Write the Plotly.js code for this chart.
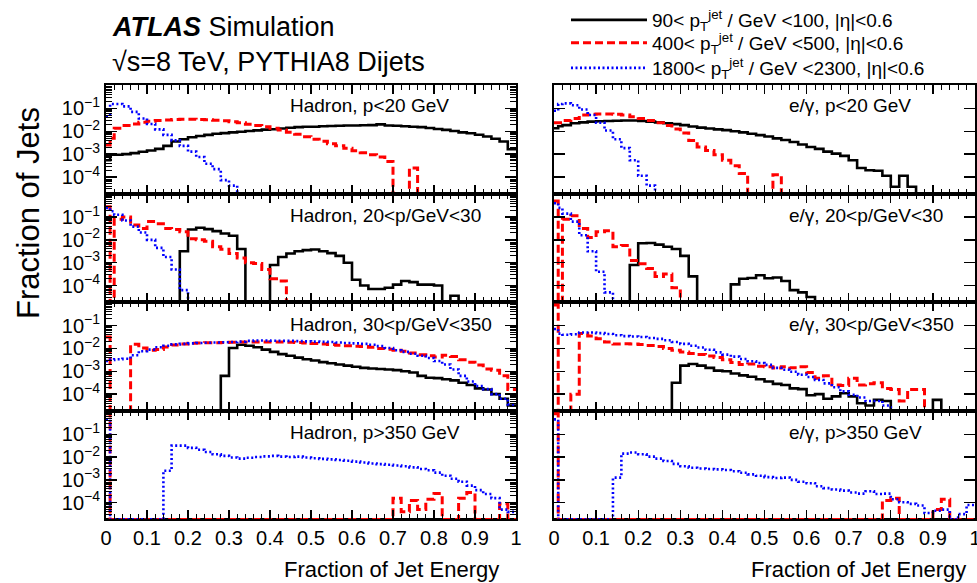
<!DOCTYPE html>
<html><head><meta charset="utf-8">
<script src="https://cdn.plot.ly/plotly-3.0.1.min.js"></script>
<style>html,body{margin:0;padding:0;background:#fff}#chart{width:977px;height:583px}</style>
</head><body><div id="chart"></div>
<script>
const _ = null; // empty bin

// Histogram bin edges (fraction of jet energy)
const binEdges = [0,0.01,0.02,0.04,0.06,0.08,0.10,0.12,0.14,0.16,0.18,0.20,0.22,0.24,0.26,0.28,0.30,0.32,0.34,0.36,0.38,0.40,0.42,0.44,0.46,0.48,0.50,0.52,0.54,0.56,0.58,0.60,0.62,0.64,0.66,0.68,0.70,0.72,0.74,0.76,0.78,0.80,0.82,0.84,0.86,0.88,0.90,0.92,0.94,0.96,0.98,1.00];

const seriesLabels = [
  '90&lt; p<sub>T</sub><sup>jet</sup> / GeV &lt;100, |η|&lt;0.6',
  '400&lt; p<sub>T</sub><sup>jet</sup> / GeV &lt;500, |η|&lt;0.6',
  '1800&lt; p<sub>T</sub><sup>jet</sup> / GeV &lt;2300, |η|&lt;0.6'
];
const panelLabels = [
  'Hadron, p&lt;20 GeV', 'e/γ, p&lt;20 GeV',
  'Hadron, 20&lt;p/GeV&lt;30', 'e/γ, 20&lt;p/GeV&lt;30',
  'Hadron, 30&lt;p/GeV&lt;350', 'e/γ, 30&lt;p/GeV&lt;350',
  'Hadron, p&gt;350 GeV', 'e/γ, p&gt;350 GeV'
];
const yTickVals = [1e-1, 1e-2, 1e-3, 1e-4];
const yTickText = ['10<sup>−1</sup>', '10<sup>−2</sup>', '10<sup>−3</sup>', '10<sup>−4</sup>'];

// log10(fraction of jets) per bin; null = empty bin
const hadronP0to20_jet90 = [-3.27,-3.03,-3.03,-3.0,-2.96,-2.9,-2.84,-2.77,-2.64,-2.45,-2.35,-2.26,-2.21,-2.16,-2.11,-2.08,-2.05,-2.02,-1.99,-1.96,-1.93,-1.91,-1.88,-1.85,-1.82,-1.8,-1.8,-1.78,-1.77,-1.76,-1.75,-1.75,-1.74,-1.73,-1.7,-1.75,-1.76,-1.78,-1.8,-1.82,-1.86,-1.9,-1.94,-1.99,-2.05,-2.09,-2.15,-2.23,-2.33,-2.45,-2.79];
const hadronP0to20_jet400 = [-2.6,-2.31,-1.87,-1.75,-1.68,-1.61,-1.56,-1.53,-1.51,-1.49,-1.48,-1.48,-1.49,-1.5,-1.52,-1.54,-1.58,-1.63,-1.69,-1.75,-1.8,-1.87,-1.95,-2.04,-2.13,-2.24,-2.35,-2.44,-2.55,-2.64,-2.74,-2.85,-2.94,-3.03,-3.13,-3.32,_,_,-3.61,_,_,_,_,_,_,_,_,_,_,_,_];
const hadronP0to20_jet1800 = [-1.34,-0.81,-0.81,-0.91,-1.15,-1.44,-1.68,-1.92,-2.16,-2.4,-2.64,-2.89,-3.13,-3.42,-3.66,-4.14,-4.38,_,_,_,_,_,_,_,_,_,_,_,_,_,_,_,_,_,_,_,_,_,_,_,_,_,_,_,_,_,_,_,_,_,_];

const egammaP0to20_jet90 = [-1.87,-1.78,-1.73,-1.65,-1.61,-1.58,-1.56,-1.55,-1.54,-1.53,-1.53,-1.55,-1.58,-1.61,-1.65,-1.69,-1.73,-1.79,-1.84,-1.88,-1.92,-1.95,-2.0,-2.05,-2.11,-2.17,-2.23,-2.31,-2.38,-2.47,-2.58,-2.69,-2.77,-2.89,-2.98,-3.08,-3.27,-3.61,-3.71,-3.73,-3.95,-4.43,-3.95,-4.43,_,_,_,_,_,_,_];
const egammaP0to20_jet400 = [-1.63,-1.63,-1.53,-1.44,-1.29,-1.26,-1.25,-1.25,-1.26,-1.29,-1.36,-1.44,-1.53,-1.63,-1.75,-1.9,-2.08,-2.4,-2.69,-2.84,-3.03,-3.27,-3.51,-3.85,_,_,_,-3.9,_,_,_,_,_,_,_,_,_,_,_,_,_,_,_,_,_,_,_,_,_,_,_];
const egammaP0to20_jet1800 = [-1.1,-0.81,-0.78,-0.86,-1.05,-1.29,-1.63,-1.97,-2.35,-2.74,-3.27,-3.95,-4.38,_,_,_,_,_,_,_,_,_,_,_,_,_,_,_,_,_,_,_,_,_,_,_,_,_,_,_,_,_,_,_,_,_,_,_,_,_,_];

const hadronP20to30_jet90 = [_,_,_,_,_,_,_,_,_,_,-2.5,-1.55,-1.47,-1.53,-1.62,-1.72,-1.82,-2.4,_,_,_,-3.1,-2.75,-2.6,-2.5,-2.45,-2.42,-2.5,-2.58,-2.7,-3.0,-3.75,-4.0,-4.15,-4.15,-4.1,-3.96,-3.8,-3.85,-3.96,-3.96,-4.0,_,-4.45,_,_,_,_,_,_,_];
const hadronP20to30_jet400 = [-0.55,_,-1.1,-1.0,-1.35,-1.5,-1.2,-1.3,-1.5,-1.55,-1.65,-1.95,-2.0,-2.06,-2.3,-2.41,-2.6,-2.8,-3.0,-3.04,-3.3,-3.7,-3.8,_,_,_,_,_,_,_,_,_,_,_,_,_,_,_,_,_,_,_,_,_,_,_,_,_,_,_,_];
const hadronP20to30_jet1800 = [-0.6,-0.75,-0.9,-1.15,-1.42,-1.68,-2.0,-2.35,-2.75,-3.3,-4.2,_,_,_,_,_,_,_,_,_,_,_,_,_,_,_,_,_,_,_,_,_,_,_,_,_,_,_,_,_,_,_,_,_,_,_,_,_,_,_,_];

const egammaP20to30_jet90 = [_,_,_,_,_,_,_,_,_,_,-3.1,-2.15,-2.14,-2.21,-2.3,-2.4,-2.7,-3.6,_,_,_,_,-3.95,-3.7,-3.67,-3.55,-3.68,-3.65,-3.8,-4.2,-4.3,-4.5,_,_,_,_,_,_,_,_,_,_,_,_,_,_,_,_,_,_,_];
const egammaP20to30_jet400 = [-0.3,_,-1.1,-0.95,-1.5,-1.9,-1.65,-1.6,-2.3,-2.25,-2.9,-3.05,-3.25,-3.6,-3.5,-4.1,_,_,_,_,_,_,_,_,_,_,_,_,_,_,_,_,_,_,_,_,_,_,_,_,_,_,_,_,_,_,_,_,_,_,_];
const egammaP20to30_jet1800 = [-0.4,-0.6,-0.85,-1.2,-1.8,-2.5,-3.4,-4.3,_,_,_,_,_,_,_,_,_,_,_,_,_,_,_,_,_,_,_,_,_,_,_,_,_,_,_,_,_,_,_,_,_,_,_,_,_,_,_,_,_,_,_];

const hadronP30to350_jet90 = [_,_,_,_,_,_,_,_,_,_,_,_,_,_,_,-3.2,-1.98,-1.84,-1.88,-1.95,-2.05,-2.15,-2.25,-2.32,-2.4,-2.47,-2.53,-2.6,-2.65,-2.7,-2.75,-2.8,-2.85,-2.88,-2.9,-2.92,-2.95,-3.0,-3.05,-3.2,-3.28,-3.3,-3.35,-3.4,-3.5,-3.6,-3.75,-3.8,-4.0,-4.2,-4.5];
const hadronP30to350_jet400 = [-1.5,_,_,_,-1.82,-1.98,-2.08,-2.05,-1.94,-1.85,-1.8,-1.77,-1.76,-1.75,-1.75,-1.74,-1.73,-1.72,-1.72,-1.72,-1.72,-1.72,-1.72,-1.73,-1.74,-1.76,-1.78,-1.8,-1.83,-1.86,-1.88,-1.9,-1.92,-1.95,-2.0,-2.03,-2.08,-2.12,-2.2,-2.28,-2.32,-2.37,-2.3,-2.35,-2.5,-2.6,-2.73,-2.9,-2.95,-3.2,-3.8];
const hadronP30to350_jet1800 = [-2.55,-2.5,-2.47,-2.45,-2.3,-2.12,-2.05,-1.95,-1.88,-1.82,-1.8,-1.78,-1.76,-1.75,-1.74,-1.73,-1.72,-1.7,-1.67,-1.65,-1.65,-1.66,-1.67,-1.67,-1.68,-1.69,-1.7,-1.71,-1.72,-1.74,-1.76,-1.78,-1.8,-1.84,-1.9,-1.98,-2.08,-2.15,-2.23,-2.32,-2.42,-2.55,-2.7,-2.92,-3.2,-3.45,-3.65,-3.78,-4.0,-4.2,-4.45];

const egammaP30to350_jet90 = [_,_,_,_,_,_,_,_,_,_,_,_,_,_,_,-3.5,-2.75,-2.68,-2.75,-2.85,-2.97,-3.0,-3.1,-3.18,-3.24,-3.35,-3.45,-3.55,-3.6,-3.75,-3.78,-4.05,-4.0,-4.2,-4.1,-3.96,-4.1,-4.4,-4.5,-4.25,-4.3,_,_,_,_,_,-4.25,_,_,_,_];
const egammaP30to350_jet400 = [-0.1,_,_,-4.0,-1.35,-1.45,-1.58,-1.72,-1.8,-1.79,-1.8,-1.83,-1.87,-1.92,-2.0,-2.08,-2.15,-2.22,-2.27,-2.33,-2.4,-2.5,-2.62,-2.7,-2.68,-2.78,-2.8,-2.86,-2.8,-2.85,-2.8,-3.05,-3.3,-3.2,-3.6,-3.62,-3.3,-3.6,-3.55,-3.5,-3.75,-3.8,-4.3,-3.8,-3.8,_,_,_,_,_,_];
const egammaP30to350_jet1800 = [-1.15,-1.35,-1.4,-1.38,-1.3,-1.3,-1.33,-1.37,-1.42,-1.46,-1.48,-1.5,-1.54,-1.58,-1.64,-1.72,-1.8,-1.88,-1.96,-2.06,-2.17,-2.27,-2.36,-2.46,-2.56,-2.64,-2.72,-2.85,-2.93,-3.02,-3.15,-3.25,-3.38,-3.53,-3.7,-3.88,-4.03,-4.15,-4.3,-4.3,-4.5,_,_,_,_,_,_,_,_,_,_];

const hadronP350up_jet90 = [_,_,_,_,_,_,_,_,_,_,_,_,_,_,_,_,_,_,_,_,_,_,_,_,_,_,_,_,_,_,_,_,_,_,_,_,_,_,_,_,_,_,_,_,_,_,_,_,_,_,_];
const hadronP350up_jet400 = [-0.1,_,_,_,_,_,_,_,_,_,_,_,_,_,_,_,_,_,_,_,_,_,_,_,_,_,_,_,_,_,_,_,_,_,_,_,-3.8,-4.4,-3.9,-4.3,-3.85,-3.6,_,_,-3.8,-3.55,_,_,_,-4.05,_];
const hadronP350up_jet1800 = [-0.35,_,_,_,_,_,_,_,-2.6,-1.5,-1.5,-1.6,-1.68,-1.78,-1.88,-1.95,-2.02,-2.07,-2.03,-2.0,-1.97,-1.95,-1.98,-2.0,-1.98,-2.02,-2.05,-2.08,-2.1,-2.13,-2.16,-2.2,-2.24,-2.28,-2.31,-2.34,-2.37,-2.4,-2.45,-2.52,-2.58,-2.68,-2.82,-2.95,-3.08,-3.25,-3.45,-3.62,-3.8,-4.3,-4.4];

const egammaP350up_jet90 = [_,_,_,_,_,_,_,_,_,_,_,_,_,_,_,_,_,_,_,_,_,_,_,_,_,_,_,_,_,_,_,_,_,_,_,_,_,_,_,_,_,_,_,_,_,_,_,_,_,_,_];
const egammaP350up_jet400 = [-0.1,_,_,_,_,_,_,_,_,_,_,_,_,_,_,_,_,_,_,_,_,_,_,_,_,_,_,_,_,_,_,_,_,_,_,_,_,_,_,_,-3.9,-3.8,_,_,_,_,-4.3,-3.85,_,_,_];
const egammaP350up_jet1800 = [-0.35,_,_,_,_,_,_,_,-2.9,-1.85,-1.8,-1.88,-1.98,-2.07,-2.17,-2.3,-2.4,-2.47,-2.5,-2.52,-2.54,-2.57,-2.62,-2.69,-2.76,-2.82,-2.88,-2.92,-2.9,-3.0,-3.08,-3.15,-3.28,-3.36,-3.42,-3.47,-3.55,-3.6,-3.5,-3.62,-3.6,-3.85,-3.98,-4.05,-4.12,-4.45,-4.35,-4.3,_,-4.5,-4.1];

const panelData = [
  [hadronP0to20_jet90, hadronP0to20_jet400, hadronP0to20_jet1800],
  [egammaP0to20_jet90, egammaP0to20_jet400, egammaP0to20_jet1800],
  [hadronP20to30_jet90, hadronP20to30_jet400, hadronP20to30_jet1800],
  [egammaP20to30_jet90, egammaP20to30_jet400, egammaP20to30_jet1800],
  [hadronP30to350_jet90, hadronP30to350_jet400, hadronP30to350_jet1800],
  [egammaP30to350_jet90, egammaP30to350_jet400, egammaP30to350_jet1800],
  [hadronP350up_jet90, hadronP350up_jet400, hadronP350up_jet1800],
  [egammaP350up_jet90, egammaP350up_jet400, egammaP350up_jet1800]
];

// ---- layout / styling ----
const W = 977, H = 583;
const FONT = 'Liberation Sans, Arial, Helvetica, sans-serif';
const colX = [[106/W, 516/W], [554/W, 975/W]];
const rowTopPx = [85, 193.6, 302.2, 410.8, 519.4];
const yLogRange = [-4.73, 0.025];
const lineStyles = [
  {color: '#000000', width: 2.6, dash: 'solid'},
  {color: '#ff0000', width: 3, dash: '8px,4px'},
  {color: '#0000ff', width: 2.6, dash: '2px,2.5px'}
];
const legendIds = ['legend', 'legend2', 'legend3'];
const legendYpx = [20, 43, 68];
const minorVals = [];
for (let k = -6; k <= 0; k++) for (let m = 2; m <= 9; m++) minorVals.push(m * Math.pow(10, k));

const traces = [];
const layout = {
  width: W, height: H, autosize: false,
  margin: {l: 0, r: 0, t: 0, b: 0},
  paper_bgcolor: '#fff', plot_bgcolor: 'rgba(0,0,0,0)',
  font: {family: FONT, color: '#000'},
  showlegend: true,
  annotations: [], shapes: []
};
legendIds.forEach((id, s) => {
  layout[id] = {x: 566/W, y: 1 - legendYpx[s]/H, xanchor: 'left', yanchor: 'middle',
    font: {size: 19, family: FONT}, bgcolor: 'rgba(0,0,0,0)', itemwidth: 76, tracegroupgap: 0};
});

const floorVal = Math.pow(10, yLogRange[0]);
for (let p = 0; p < 8; p++) {
  const row = Math.floor(p / 2), col = p % 2, n = p + 1;
  const xa = 'x' + (n === 1 ? '' : n), ya = 'y' + (n === 1 ? '' : n);
  panelData[p].forEach((logs, s) => {
    const y = logs.map(v => v === null ? floorVal : Math.pow(10, v));
    y.push(y[y.length - 1]);
    traces.push({
      type: 'scatter', mode: 'lines', x: binEdges, y: y,
      xaxis: xa, yaxis: ya, name: seriesLabels[s], showlegend: p === 0, legend: legendIds[s],
      line: Object.assign({shape: 'hv'}, lineStyles[s]), hoverinfo: 'skip'
    });
  });
  const yTop = 1 - rowTopPx[row] / H, yBot = 1 - rowTopPx[row + 1] / H;
  layout['xaxis' + (n === 1 ? '' : n)] = {
    domain: colX[col], range: [0, 1], anchor: ya, showline: true, linecolor: '#000', linewidth: 2,
    mirror: 'ticks', ticks: 'inside', ticklen: 9, tickwidth: 1.3, tickcolor: '#000',
    tick0: 0, dtick: 0.1, showticklabels: row === 3, tickfont: {size: 20, family: FONT},
    ticklabeloverflow: 'allow',
    showgrid: false, zeroline: false, fixedrange: true,
    minor: {ticks: 'inside', ticklen: 5, tick0: 0, dtick: 0.02, tickcolor: '#000', tickwidth: 1, showgrid: false}
  };
  const yax = {
    domain: [yBot, yTop], type: 'log', range: yLogRange, anchor: xa,
    showline: true, linecolor: '#000', linewidth: 2, mirror: 'ticks',
    ticks: 'inside', ticklen: 11, tickwidth: 1.3, tickcolor: '#000',
    tickmode: 'array', tickvals: yTickVals, ticktext: yTickText,
    showticklabels: col === 0, tickfont: {size: 20, family: FONT},
    showgrid: false, zeroline: false, fixedrange: true
  };
  if (col === 0) {
    yax.minor = {tickmode: 'array', tickvals: minorVals, ticks: 'inside', ticklen: 6, tickcolor: '#000', tickwidth: 1, showgrid: false};
  }
  layout['yaxis' + (n === 1 ? '' : n)] = yax;
  layout.annotations.push({
    xref: 'paper', yref: 'paper', x: (col === 0 ? 288 : 787) / W,
    y: 1 - [105, 215, 325, 432][row] / H, xanchor: 'left', yanchor: 'middle',
    text: panelLabels[p], showarrow: false, font: {size: 19, family: FONT}
  });
}

layout.annotations.push(
  {xref: 'paper', yref: 'paper', x: 501/W, y: 1 - 569/H, xanchor: 'right', yanchor: 'middle',
   text: 'Fraction of Jet Energy', showarrow: false, font: {size: 22, family: FONT}},
  {xref: 'paper', yref: 'paper', x: 968/W, y: 1 - 569/H, xanchor: 'right', yanchor: 'middle',
   text: 'Fraction of Jet Energy', showarrow: false, font: {size: 22, family: FONT}},
  {xref: 'paper', yref: 'paper', x: 28/W, y: 1 - 213/H, xanchor: 'center', yanchor: 'middle', textangle: -90,
   text: 'Fraction of Jets', showarrow: false, font: {size: 31, family: FONT}},
  {xref: 'paper', yref: 'paper', x: 110/W, y: 1 - 27/H, xanchor: 'left', yanchor: 'middle',
   text: '<b><i>ATLAS</i></b> Simulation', showarrow: false, font: {size: 27, family: FONT}},
  {xref: 'paper', yref: 'paper', x: 110/W, y: 1 - 62/H, xanchor: 'left', yanchor: 'middle',
   text: '√s=8 TeV, PYTHIA8 Dijets', showarrow: false, font: {size: 27, family: FONT}}
);

Plotly.newPlot('chart', traces, layout, {displayModeBar: false, staticPlot: true});
</script>
</body></html>
